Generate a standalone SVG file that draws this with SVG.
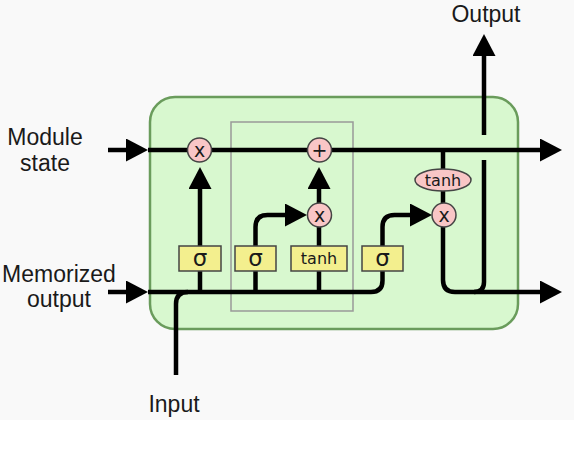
<svg xmlns="http://www.w3.org/2000/svg" width="574" height="454" viewBox="0 0 574 454">
<defs>
<marker id="ah" viewBox="0 0 22 23" markerWidth="22" markerHeight="23" refX="1" refY="11.5" orient="auto" markerUnits="userSpaceOnUse">
<path d="M0 0 L22 11.5 L0 23 Z" fill="#000"/>
</marker>
<style>
.wire{fill:none;stroke:#000;stroke-width:4.5;stroke-linecap:butt;stroke-linejoin:round}
.arr{marker-end:url(#ah)}
.op circle,.op ellipse{fill:#f9c6c6;stroke:#444;stroke-width:1.5}
.gate rect{fill:#f3ef8e;stroke:#444;stroke-width:1.5}
.lbl{font-family:"Liberation Sans",Arial,sans-serif;font-size:23px;fill:#1a1a1a;text-anchor:middle}
.sym{font-family:"DejaVu Sans",Verdana,sans-serif;fill:#1a1a1a;text-anchor:middle}
</style>
</defs>
<rect x="0" y="0" width="574" height="420" fill="#f9f9f9"/>
<rect x="0" y="420" width="574" height="34" fill="#ffffff"/>
<g id="cell">
<rect x="150" y="97" width="368" height="232" rx="25" fill="#d8f8cf" stroke="#6a9c5c" stroke-width="2.5"/>
</g>
<g id="frame">
<rect x="231" y="122" width="122" height="189" fill="none" stroke="#999" stroke-width="1.5"/>
</g>
<g id="connectors">
<path class="wire arr" d="M108 150 H127"/>
<path class="wire arr" d="M148 150 H541"/>
<path class="wire arr" d="M108 292 H127"/>
<path class="wire" d="M148 292 H371 Q382.5 292 382.5 280.5 V271"/>
<path class="wire" d="M176 375 V304 Q176 292 188 292"/>
<path class="wire" d="M200 292 V271"/>
<path class="wire arr" d="M200 246 V188"/>
<path class="wire" d="M255.5 292 V271"/>
<path class="wire arr" d="M255.5 246 V227 Q255.5 215 267.5 215 H286"/>
<path class="wire" d="M319 292 V271"/>
<path class="wire" d="M319 246 V227"/>
<path class="wire arr" d="M319 203 V188"/>
<path class="wire arr" d="M382.5 246 V227 Q382.5 215 394.5 215 H411"/>
<path class="wire" d="M443 150 V169"/>
<path class="wire" d="M443 191 V203"/>
<path class="wire arr" d="M443 227 V280 Q443 292 455 292 H541"/>
<path class="wire arr" d="M484 135 V55"/>
<path class="wire" d="M484 160 V282 Q484 292 474 292"/>
</g>
<g id="forget-mul" class="op"><circle cx="199.5" cy="150" r="12"/><text class="sym" x="199.5" y="156.5" font-size="19">x</text></g>
<g id="state-add" class="op"><circle cx="319.5" cy="150" r="12"/><text class="sym" x="319.5" y="157" font-size="19">+</text></g>
<g id="input-mul" class="op"><circle cx="319.5" cy="215" r="12"/><text class="sym" x="319.5" y="221.5" font-size="19">x</text></g>
<g id="output-mul" class="op"><circle cx="444" cy="215" r="12"/><text class="sym" x="444" y="221.5" font-size="19">x</text></g>
<g id="output-tanh" class="op"><ellipse cx="443" cy="180" rx="28" ry="11"/><text class="sym" x="443" y="185.5" font-size="16">tanh</text></g>
<g id="forget-gate" class="gate"><rect x="179" y="246" width="42" height="25"/><text class="sym" x="200" y="266" font-size="23">σ</text></g>
<g id="input-gate" class="gate"><rect x="235" y="246" width="41" height="25"/><text class="sym" x="255.5" y="266" font-size="23">σ</text></g>
<g id="candidate" class="gate"><rect x="291" y="246" width="56" height="25"/><text class="sym" x="319" y="264" font-size="16">tanh</text></g>
<g id="output-gate" class="gate"><rect x="362" y="246" width="41" height="25"/><text class="sym" x="382.5" y="266" font-size="23">σ</text></g>
<g id="labels">
<text class="lbl" x="45" y="145">Module</text>
<text class="lbl" x="45" y="171">state</text>
<text class="lbl" x="59" y="282">Memorized</text>
<text class="lbl" x="59" y="307">output</text>
<text class="lbl" x="174" y="412">Input</text>
<text class="lbl" x="486" y="22">Output</text>
</g>
</svg>
